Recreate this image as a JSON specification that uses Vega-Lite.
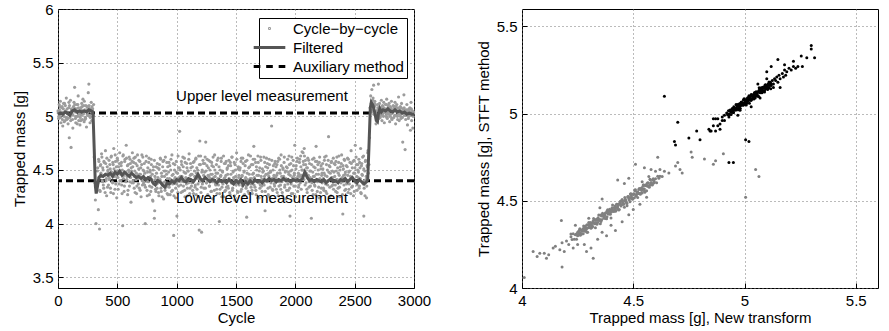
{
"$schema":"https://vega.github.io/schema/vega-lite/v6.json",
"padding":{"left":11,"top":1,"right":5,"bottom":3},
"background":"white",
"spacing":108,
"bounds":"flush",
"resolve":{"scale":{"color":"independent","shape":"independent","strokeWidth":"independent"},"legend":{"color":"independent","shape":"independent","strokeWidth":"independent"}},
"config":{
"font":"Liberation Sans",
"view":{"stroke":"black","strokeWidth":1},
"axis":{"domain":false,"grid":true,"gridColor":"#777777","gridDash":[1,3],"gridWidth":1,"ticks":true,"tickColor":"black","tickSize":-5,"labelFont":"Liberation Sans","labelFontSize":15,"labelColor":"black","titleFont":"Liberation Sans","titleFontSize":15,"titleFontWeight":"normal","titleColor":"black","labelFlush":false,"labelOverlap":false},
"axisX":{"labelPadding":10,"titlePadding":2},
"axisY":{"labelPadding":10,"titlePadding":5},
"legend":{"symbolOpacity":1}
},
"datasets":{
"cyc":[
{"c":0,"m":5.05},{"c":5,"m":4.98},{"c":10,"m":5.11},{"c":15,"m":5.01},{"c":20,"m":5.14},{"c":25,"m":4.94},{"c":30,"m":5.04},{"c":35,"m":5.09},{"c":40,"m":4.91},{"c":45,"m":5.07},{"c":50,"m":5.00},{"c":55,"m":5.12},{"c":60,"m":4.96},{"c":65,"m":5.05},{"c":70,"m":5.17},{"c":75,"m":4.97},{"c":80,"m":5.03},{"c":85,"m":4.93},{"c":90,"m":5.08},{"c":95,"m":4.80},{"c":100,"m":4.99},{"c":105,"m":5.15},{"c":110,"m":4.71},{"c":115,"m":5.06},{"c":120,"m":5.02},{"c":125,"m":4.89},{"c":130,"m":5.09},{"c":135,"m":5.13},{"c":140,"m":5.27},{"c":145,"m":5.04},{"c":150,"m":4.94},{"c":155,"m":5.07},{"c":160,"m":5.11},{"c":165,"m":5.00},{"c":170,"m":5.19},{"c":175,"m":4.96},{"c":180,"m":5.05},{"c":185,"m":4.92},{"c":190,"m":5.08},{"c":195,"m":5.01},{"c":200,"m":5.12},{"c":205,"m":4.97},{"c":210,"m":5.16},{"c":215,"m":5.03},{"c":220,"m":4.95},{"c":225,"m":5.06},{"c":230,"m":4.99},{"c":235,"m":5.10},{"c":240,"m":4.90},{"c":245,"m":5.09},{"c":250,"m":5.04},{"c":255,"m":5.22},{"c":260,"m":5.30},{"c":265,"m":5.01},{"c":270,"m":4.94},{"c":275,"m":5.07},{"c":280,"m":5.13},{"c":285,"m":4.96},{"c":290,"m":5.05},{"c":295,"m":5.00},{"c":300,"m":5.11},
{"c":2,"m":5.03},{"c":12,"m":5.06},{"c":22,"m":4.99},{"c":32,"m":5.08},{"c":42,"m":5.02},{"c":52,"m":4.95},{"c":62,"m":5.10},{"c":72,"m":5.04},{"c":82,"m":4.98},{"c":92,"m":5.13},{"c":102,"m":5.01},{"c":112,"m":5.07},{"c":122,"m":4.97},{"c":132,"m":5.05},{"c":142,"m":5.11},{"c":152,"m":5.00},{"c":162,"m":4.93},{"c":172,"m":5.08},{"c":182,"m":5.03},{"c":192,"m":4.96},{"c":202,"m":5.09},{"c":212,"m":5.02},{"c":222,"m":5.14},{"c":232,"m":4.98},{"c":242,"m":5.06},{"c":252,"m":5.01},{"c":262,"m":5.10},{"c":272,"m":4.99},{"c":282,"m":5.04},{"c":292,"m":5.07},
{"c":7,"m":5.00},{"c":17,"m":5.09},{"c":27,"m":5.03},{"c":37,"m":4.97},{"c":47,"m":5.12},{"c":57,"m":5.04},{"c":67,"m":4.99},{"c":77,"m":5.07},{"c":87,"m":5.02},{"c":97,"m":5.10},{"c":107,"m":4.96},{"c":117,"m":5.05},{"c":127,"m":5.01},{"c":137,"m":5.08},{"c":147,"m":4.98},{"c":157,"m":5.04},{"c":167,"m":5.11},{"c":177,"m":5.02},{"c":187,"m":4.99},{"c":197,"m":5.06},{"c":207,"m":5.03},{"c":217,"m":5.10},{"c":227,"m":4.97},{"c":237,"m":5.05},{"c":247,"m":5.02},{"c":257,"m":5.08},{"c":267,"m":5.00},{"c":277,"m":5.04},{"c":287,"m":5.09},{"c":297,"m":5.01},
{"c":305,"m":4.62},{"c":310,"m":4.38},{"c":315,"m":4.22},{"c":320,"m":4.00},{"c":325,"m":4.35},
{"c":330,"m":4.35},{"c":335,"m":4.52},{"c":340,"m":4.13},{"c":345,"m":4.58},{"c":350,"m":3.95},{"c":355,"m":4.30},{"c":360,"m":4.55},{"c":365,"m":4.44},{"c":370,"m":4.62},{"c":375,"m":4.39},{"c":380,"m":4.50},{"c":385,"m":4.33},{"c":390,"m":4.57},{"c":395,"m":4.45},{"c":400,"m":4.68},{"c":405,"m":4.40},{"c":410,"m":4.26},{"c":415,"m":4.53},{"c":420,"m":4.48},{"c":425,"m":4.36},
{"c":430,"m":4.59},{"c":435,"m":4.42},{"c":440,"m":4.51},{"c":445,"m":4.29},{"c":450,"m":4.63},{"c":455,"m":4.46},{"c":460,"m":4.38},{"c":465,"m":4.55},{"c":470,"m":4.70},{"c":475,"m":4.44},{"c":480,"m":4.32},{"c":485,"m":4.58},{"c":490,"m":4.49},{"c":495,"m":4.24},{"c":500,"m":4.61},{"c":505,"m":4.43},{"c":510,"m":4.53},{"c":515,"m":4.37},{"c":520,"m":4.66},{"c":525,"m":4.47},
{"c":530,"m":4.40},{"c":535,"m":4.57},{"c":540,"m":4.28},{"c":545,"m":3.98},{"c":550,"m":4.64},{"c":555,"m":4.45},{"c":560,"m":4.35},{"c":565,"m":4.60},{"c":570,"m":4.48},{"c":575,"m":4.73},{"c":580,"m":4.41},{"c":585,"m":4.54},{"c":590,"m":4.31},{"c":595,"m":4.50},{"c":600,"m":4.62},{"c":605,"m":4.39},{"c":610,"m":4.56},{"c":615,"m":4.20},{"c":620,"m":4.49},{"c":625,"m":4.58},
{"c":630,"m":4.53},{"c":635,"m":4.38},{"c":640,"m":4.61},{"c":645,"m":4.44},{"c":650,"m":4.29},{"c":655,"m":4.56},{"c":660,"m":4.47},{"c":665,"m":4.35},{"c":670,"m":4.64},{"c":675,"m":4.42},{"c":680,"m":4.51},{"c":685,"m":4.33},{"c":690,"m":4.58},{"c":695,"m":4.46},{"c":700,"m":4.25},{"c":705,"m":4.55},{"c":710,"m":4.40},{"c":715,"m":4.62},{"c":720,"m":4.37},{"c":725,"m":4.49},
{"c":730,"m":4.36},{"c":735,"m":4.00},{"c":740,"m":4.42},{"c":745,"m":4.63},{"c":750,"m":4.31},{"c":755,"m":4.48},{"c":760,"m":4.39},{"c":765,"m":4.57},{"c":770,"m":4.27},{"c":775,"m":4.50},{"c":780,"m":4.44},{"c":785,"m":4.60},{"c":790,"m":4.34},{"c":795,"m":4.46},{"c":800,"m":4.21},{"c":805,"m":4.53},{"c":810,"m":4.38},{"c":812,"m":4.05},{"c":815,"m":4.12},{"c":820,"m":4.41},{"c":825,"m":4.30},
{"c":830,"m":4.47},{"c":835,"m":4.33},{"c":840,"m":4.52},{"c":845,"m":4.38},{"c":850,"m":4.26},{"c":855,"m":4.55},{"c":860,"m":4.41},{"c":865,"m":4.60},{"c":870,"m":4.30},{"c":875,"m":4.44},{"c":880,"m":4.36},{"c":885,"m":4.58},{"c":890,"m":4.23},{"c":895,"m":4.49},{"c":900,"m":4.39},{"c":905,"m":4.62},{"c":910,"m":4.34},{"c":915,"m":4.46},{"c":920,"m":4.28},{"c":925,"m":4.53},
{"c":930,"m":4.35},{"c":935,"m":4.57},{"c":940,"m":4.42},{"c":945,"m":4.27},{"c":950,"m":4.50},{"c":955,"m":4.38},{"c":960,"m":4.64},{"c":965,"m":4.31},{"c":970,"m":4.46},{"c":975,"m":3.89},{"c":980,"m":4.41},{"c":985,"m":4.55},{"c":990,"m":4.24},{"c":995,"m":4.48},{"c":1000,"m":4.37},{"c":1002,"m":4.07},{"c":1005,"m":4.41},{"c":1010,"m":4.29},{"c":1015,"m":4.52},{"c":1020,"m":4.43},{"c":1025,"m":4.86},
{"c":1030,"m":4.50},{"c":1035,"m":4.36},{"c":1040,"m":4.58},{"c":1045,"m":4.44},{"c":1050,"m":4.30},{"c":1055,"m":4.53},{"c":1060,"m":4.39},{"c":1065,"m":4.61},{"c":1070,"m":4.25},{"c":1075,"m":4.47},{"c":1080,"m":4.42},{"c":1085,"m":4.56},{"c":1090,"m":4.33},{"c":1095,"m":4.49},{"c":1100,"m":4.38},{"c":1105,"m":4.65},{"c":1110,"m":4.28},{"c":1115,"m":4.45},{"c":1120,"m":4.52},{"c":1125,"m":4.35},
{"c":1130,"m":4.46},{"c":1135,"m":4.31},{"c":1140,"m":4.57},{"c":1145,"m":4.40},{"c":1150,"m":4.49},{"c":1155,"m":4.34},{"c":1160,"m":4.60},{"c":1165,"m":4.27},{"c":1170,"m":4.52},{"c":1175,"m":4.43},{"c":1180,"m":4.37},{"c":1185,"m":4.63},{"c":1190,"m":3.94},{"c":1195,"m":4.77},{"c":1200,"m":4.55},{"c":1205,"m":4.29},{"c":1210,"m":3.92},{"c":1215,"m":4.50},{"c":1220,"m":4.40},{"c":1225,"m":4.56},
{"c":1230,"m":4.33},{"c":1235,"m":4.48},{"c":1240,"m":4.62},{"c":1245,"m":4.76},{"c":1250,"m":4.38},{"c":1255,"m":4.54},{"c":1260,"m":4.26},{"c":1265,"m":4.45},{"c":1270,"m":4.59},{"c":1275,"m":4.35},{"c":1280,"m":4.50},{"c":1285,"m":4.42},{"c":1290,"m":4.30},{"c":1295,"m":4.57},{"c":1300,"m":4.46},{"c":1305,"m":4.23},{"c":1310,"m":4.53},{"c":1315,"m":4.39},{"c":1320,"m":4.64},{"c":1325,"m":4.44},
{"c":1330,"m":4.36},{"c":1335,"m":4.55},{"c":1340,"m":4.28},{"c":1345,"m":4.47},{"c":1350,"m":4.61},{"c":1355,"m":4.39},{"c":1360,"m":4.02},{"c":1365,"m":4.32},{"c":1370,"m":4.44},{"c":1375,"m":4.58},{"c":1380,"m":4.25},{"c":1385,"m":4.49},{"c":1390,"m":4.37},{"c":1395,"m":4.63},{"c":1400,"m":4.42},{"c":1405,"m":4.30},{"c":1410,"m":4.56},{"c":1415,"m":4.45},{"c":1420,"m":4.34},{"c":1425,"m":4.51},
{"c":1430,"m":4.46},{"c":1435,"m":4.33},{"c":1440,"m":4.59},{"c":1445,"m":4.41},{"c":1450,"m":4.27},{"c":1455,"m":4.54},{"c":1460,"m":4.38},{"c":1465,"m":4.62},{"c":1470,"m":4.31},{"c":1475,"m":4.48},{"c":1480,"m":4.43},{"c":1485,"m":4.57},{"c":1490,"m":4.22},{"c":1495,"m":4.50},{"c":1500,"m":4.36},{"c":1505,"m":4.66},{"c":1510,"m":4.40},{"c":1515,"m":4.29},{"c":1520,"m":4.53},{"c":1525,"m":4.45},
{"c":1530,"m":4.38},{"c":1535,"m":4.52},{"c":1540,"m":4.30},{"c":1545,"m":4.61},{"c":1550,"m":4.44},{"c":1555,"m":4.35},{"c":1560,"m":4.56},{"c":1565,"m":4.26},{"c":1570,"m":4.49},{"c":1575,"m":4.41},{"c":1580,"m":4.58},{"c":1585,"m":4.33},{"c":1590,"m":4.06},{"c":1595,"m":4.47},{"c":1600,"m":4.39},{"c":1605,"m":4.64},{"c":1610,"m":4.28},{"c":1615,"m":4.53},{"c":1620,"m":4.42},{"c":1625,"m":4.37},
{"c":1630,"m":4.55},{"c":1635,"m":4.31},{"c":1640,"m":4.46},{"c":1645,"m":4.60},{"c":1650,"m":4.72},{"c":1655,"m":4.43},{"c":1660,"m":4.34},{"c":1665,"m":4.57},{"c":1670,"m":4.27},{"c":1675,"m":4.50},{"c":1680,"m":4.39},{"c":1685,"m":4.63},{"c":1690,"m":4.45},{"c":1695,"m":4.24},{"c":1700,"m":4.52},{"c":1705,"m":4.36},{"c":1710,"m":4.59},{"c":1715,"m":4.41},{"c":1720,"m":4.30},{"c":1725,"m":4.48},
{"c":1730,"m":4.37},{"c":1735,"m":4.62},{"c":1740,"m":4.44},{"c":1745,"m":4.12},{"c":1750,"m":4.53},{"c":1755,"m":4.40},{"c":1760,"m":4.46},{"c":1765,"m":4.56},{"c":1770,"m":4.33},{"c":1775,"m":4.47},{"c":1780,"m":4.60},{"c":1785,"m":4.25},{"c":1790,"m":4.49},{"c":1795,"m":4.38},{"c":1800,"m":4.91},{"c":1805,"m":4.42},{"c":1810,"m":4.31},{"c":1815,"m":4.54},{"c":1820,"m":4.45},{"c":1825,"m":4.35},
{"c":1830,"m":4.58},{"c":1835,"m":4.43},{"c":1840,"m":4.32},{"c":1845,"m":4.55},{"c":1850,"m":4.47},{"c":1855,"m":4.26},{"c":1860,"m":4.61},{"c":1865,"m":4.39},{"c":1870,"m":4.50},{"c":1875,"m":4.36},{"c":1880,"m":4.64},{"c":1885,"m":4.44},{"c":1890,"m":4.29},{"c":1895,"m":4.52},{"c":1900,"m":4.41},{"c":1905,"m":4.57},{"c":1910,"m":4.34},{"c":1915,"m":4.48},{"c":1920,"m":4.23},{"c":1925,"m":4.53},
{"c":1930,"m":4.40},{"c":1935,"m":4.60},{"c":1940,"m":4.31},{"c":1945,"m":4.46},{"c":1950,"m":4.55},{"c":1955,"m":4.07},{"c":1960,"m":4.49},{"c":1965,"m":4.37},{"c":1970,"m":4.62},{"c":1975,"m":4.43},{"c":1980,"m":4.28},{"c":1985,"m":4.54},{"c":1990,"m":4.45},{"c":1995,"m":4.73},{"c":2000,"m":4.35},{"c":2005,"m":4.51},{"c":2010,"m":4.42},{"c":2015,"m":4.58},{"c":2020,"m":4.30},{"c":2025,"m":4.47},
{"c":2030,"m":4.36},{"c":2035,"m":4.57},{"c":2040,"m":4.44},{"c":2045,"m":4.63},{"c":2050,"m":4.32},{"c":2055,"m":4.50},{"c":2060,"m":4.41},{"c":2065,"m":4.66},{"c":2070,"m":4.55},{"c":2075,"m":4.70},{"c":2080,"m":4.46},{"c":2085,"m":4.59},{"c":2090,"m":4.38},{"c":2095,"m":4.52},{"c":2100,"m":4.29},{"c":2105,"m":4.61},{"c":2110,"m":4.45},{"c":2115,"m":4.34},{"c":2120,"m":4.56},{"c":2125,"m":4.43},
{"c":2130,"m":4.49},{"c":2135,"m":4.05},{"c":2140,"m":4.38},{"c":2145,"m":4.60},{"c":2150,"m":4.27},{"c":2155,"m":4.53},{"c":2160,"m":4.44},{"c":2165,"m":4.35},{"c":2170,"m":4.58},{"c":2175,"m":4.72},{"c":2180,"m":4.41},{"c":2185,"m":4.30},{"c":2190,"m":4.55},{"c":2195,"m":4.46},{"c":2200,"m":4.24},{"c":2205,"m":4.62},{"c":2210,"m":4.39},{"c":2215,"m":4.51},{"c":2220,"m":4.33},{"c":2225,"m":4.47},
{"c":2230,"m":4.56},{"c":2235,"m":4.42},{"c":2240,"m":4.31},{"c":2245,"m":4.59},{"c":2250,"m":4.45},{"c":2255,"m":4.37},{"c":2260,"m":4.63},{"c":2265,"m":4.28},{"c":2270,"m":4.50},{"c":2275,"m":4.40},{"c":2280,"m":4.81},{"c":2285,"m":4.54},{"c":2290,"m":4.34},{"c":2295,"m":4.47},{"c":2300,"m":4.26},{"c":2305,"m":4.58},{"c":2310,"m":4.43},{"c":2315,"m":4.36},{"c":2320,"m":4.61},{"c":2325,"m":4.48},
{"c":2330,"m":4.39},{"c":2335,"m":4.55},{"c":2340,"m":4.30},{"c":2345,"m":4.49},{"c":2350,"m":4.62},{"c":2355,"m":4.41},{"c":2360,"m":4.33},{"c":2365,"m":4.57},{"c":2370,"m":4.45},{"c":2375,"m":4.25},{"c":2380,"m":4.53},{"c":2385,"m":4.38},{"c":2390,"m":4.64},{"c":2395,"m":4.43},{"c":2400,"m":4.09},{"c":2405,"m":4.51},{"c":2410,"m":4.36},{"c":2415,"m":4.59},{"c":2420,"m":4.46},{"c":2425,"m":4.32},
{"c":2430,"m":4.54},{"c":2435,"m":4.40},{"c":2440,"m":4.61},{"c":2445,"m":4.29},{"c":2450,"m":4.48},{"c":2455,"m":4.37},{"c":2460,"m":4.57},{"c":2465,"m":4.44},{"c":2470,"m":4.68},{"c":2475,"m":4.34},{"c":2480,"m":4.52},{"c":2485,"m":4.42},{"c":2490,"m":4.26},{"c":2495,"m":4.59},{"c":2500,"m":4.47},{"c":2505,"m":4.73},{"c":2510,"m":4.38},{"c":2515,"m":4.55},{"c":2520,"m":4.31},{"c":2525,"m":4.50},
{"c":2530,"m":4.43},{"c":2535,"m":4.60},{"c":2540,"m":4.35},{"c":2545,"m":4.52},{"c":2550,"m":4.70},{"c":2555,"m":4.28},{"c":2560,"m":4.56},{"c":2565,"m":4.45},{"c":2570,"m":4.38},{"c":2575,"m":4.63},{"c":2577,"m":4.07},{"c":2580,"m":4.33},{"c":2585,"m":4.49},{"c":2590,"m":4.58},{"c":2595,"m":4.41},{"c":2600,"m":4.24},{"c":2605,"m":4.54},{"c":2610,"m":4.66},{"c":2615,"m":4.47},
{"c":332,"m":4.49},{"c":337,"m":4.38},{"c":342,"m":4.60},{"c":347,"m":4.43},{"c":352,"m":4.31},{"c":357,"m":4.54},{"c":362,"m":4.47},{"c":367,"m":4.65},{"c":372,"m":4.40},{"c":377,"m":4.52},{"c":382,"m":4.36},{"c":387,"m":4.58},{"c":392,"m":4.45},{"c":397,"m":4.29},{"c":402,"m":4.56},{"c":407,"m":4.42},{"c":412,"m":4.61},{"c":417,"m":4.34},{"c":422,"m":4.50},{"c":427,"m":4.44},
{"c":432,"m":4.41},{"c":437,"m":4.55},{"c":442,"m":4.33},{"c":447,"m":4.62},{"c":452,"m":4.48},{"c":457,"m":4.39},{"c":462,"m":4.57},{"c":467,"m":4.28},{"c":472,"m":4.51},{"c":477,"m":4.45},{"c":482,"m":4.64},{"c":487,"m":4.37},{"c":492,"m":4.53},{"c":497,"m":4.43},{"c":502,"m":4.59},{"c":507,"m":4.32},{"c":512,"m":4.49},{"c":517,"m":4.56},{"c":522,"m":4.40},{"c":527,"m":4.46},
{"c":532,"m":4.54},{"c":537,"m":4.36},{"c":542,"m":4.50},{"c":547,"m":4.63},{"c":552,"m":4.42},{"c":557,"m":4.30},{"c":562,"m":4.58},{"c":567,"m":4.47},{"c":572,"m":4.39},{"c":577,"m":4.61},{"c":582,"m":4.44},{"c":587,"m":4.27},{"c":592,"m":4.55},{"c":597,"m":4.48},{"c":602,"m":4.35},{"c":607,"m":4.60},{"c":612,"m":4.43},{"c":617,"m":4.52},{"c":622,"m":4.38},{"c":627,"m":4.66},
{"c":632,"m":4.40},{"c":637,"m":4.57},{"c":642,"m":4.33},{"c":647,"m":4.49},{"c":652,"m":4.62},{"c":657,"m":4.41},{"c":662,"m":4.28},{"c":667,"m":4.54},{"c":672,"m":4.45},{"c":677,"m":4.37},{"c":682,"m":4.59},{"c":687,"m":4.46},{"c":692,"m":4.31},{"c":697,"m":4.52},{"c":702,"m":4.43},{"c":707,"m":4.64},{"c":712,"m":4.36},{"c":717,"m":4.50},{"c":722,"m":4.39},{"c":727,"m":4.56},
{"c":732,"m":4.47},{"c":737,"m":4.34},{"c":742,"m":4.58},{"c":747,"m":4.40},{"c":752,"m":4.26},{"c":757,"m":4.52},{"c":762,"m":4.43},{"c":767,"m":4.61},{"c":772,"m":4.35},{"c":777,"m":4.48},{"c":782,"m":4.30},{"c":787,"m":4.55},{"c":792,"m":4.41},{"c":797,"m":4.22},{"c":802,"m":4.50},{"c":807,"m":4.37},{"c":812,"m":4.59},{"c":817,"m":4.44},{"c":822,"m":4.32},{"c":827,"m":4.53},
{"c":832,"m":4.37},{"c":837,"m":4.56},{"c":842,"m":4.43},{"c":847,"m":4.29},{"c":852,"m":4.51},{"c":857,"m":4.40},{"c":862,"m":4.61},{"c":867,"m":4.33},{"c":872,"m":4.47},{"c":877,"m":4.25},{"c":882,"m":4.53},{"c":887,"m":4.38},{"c":892,"m":4.59},{"c":897,"m":4.44},{"c":902,"m":4.31},{"c":907,"m":4.49},{"c":912,"m":4.36},{"c":917,"m":4.57},{"c":922,"m":4.42},{"c":927,"m":4.27},
{"c":932,"m":4.48},{"c":937,"m":4.34},{"c":942,"m":4.54},{"c":947,"m":4.41},{"c":952,"m":4.60},{"c":957,"m":4.30},{"c":962,"m":4.45},{"c":967,"m":4.37},{"c":972,"m":4.56},{"c":977,"m":4.26},{"c":982,"m":4.50},{"c":987,"m":4.43},{"c":992,"m":4.33},{"c":997,"m":4.58},{"c":1002,"m":4.39},{"c":1007,"m":4.47},{"c":1012,"m":4.63},{"c":1017,"m":4.35},{"c":1022,"m":4.52},{"c":1027,"m":4.40},
{"c":1032,"m":4.44},{"c":1037,"m":4.29},{"c":1042,"m":4.55},{"c":1047,"m":4.40},{"c":1052,"m":4.62},{"c":1057,"m":4.35},{"c":1062,"m":4.48},{"c":1067,"m":4.31},{"c":1072,"m":4.57},{"c":1077,"m":4.43},{"c":1082,"m":4.37},{"c":1087,"m":4.52},{"c":1092,"m":4.26},{"c":1097,"m":4.49},{"c":1102,"m":4.60},{"c":1107,"m":4.41},{"c":1112,"m":4.33},{"c":1117,"m":4.56},{"c":1122,"m":4.46},{"c":1127,"m":4.38},
{"c":1132,"m":4.53},{"c":1137,"m":4.39},{"c":1142,"m":4.28},{"c":1147,"m":4.58},{"c":1152,"m":4.44},{"c":1157,"m":4.36},{"c":1162,"m":4.61},{"c":1167,"m":4.47},{"c":1172,"m":4.32},{"c":1177,"m":4.50},{"c":1182,"m":4.42},{"c":1187,"m":4.25},{"c":1192,"m":4.55},{"c":1197,"m":4.40},{"c":1202,"m":4.63},{"c":1207,"m":4.34},{"c":1212,"m":4.48},{"c":1217,"m":4.37},{"c":1222,"m":4.59},{"c":1227,"m":4.45},
{"c":1232,"m":4.41},{"c":1237,"m":4.56},{"c":1242,"m":4.33},{"c":1247,"m":4.49},{"c":1252,"m":4.38},{"c":1257,"m":4.60},{"c":1262,"m":4.27},{"c":1267,"m":4.52},{"c":1272,"m":4.44},{"c":1277,"m":4.35},{"c":1282,"m":4.58},{"c":1287,"m":4.46},{"c":1292,"m":4.30},{"c":1297,"m":4.54},{"c":1302,"m":4.39},{"c":1307,"m":4.62},{"c":1312,"m":4.43},{"c":1317,"m":4.31},{"c":1322,"m":4.50},{"c":1327,"m":4.37},
{"c":1332,"m":4.47},{"c":1337,"m":4.32},{"c":1342,"m":4.59},{"c":1347,"m":4.42},{"c":1352,"m":4.36},{"c":1357,"m":4.53},{"c":1362,"m":4.28},{"c":1367,"m":4.50},{"c":1372,"m":4.45},{"c":1377,"m":4.61},{"c":1382,"m":4.34},{"c":1387,"m":4.48},{"c":1392,"m":4.40},{"c":1397,"m":4.25},{"c":1402,"m":4.56},{"c":1407,"m":4.43},{"c":1412,"m":4.31},{"c":1417,"m":4.58},{"c":1422,"m":4.39},{"c":1427,"m":4.52},
{"c":1432,"m":4.35},{"c":1437,"m":4.54},{"c":1442,"m":4.42},{"c":1447,"m":4.29},{"c":1452,"m":4.57},{"c":1457,"m":4.46},{"c":1462,"m":4.38},{"c":1467,"m":4.62},{"c":1472,"m":4.33},{"c":1477,"m":4.49},{"c":1482,"m":4.41},{"c":1487,"m":4.26},{"c":1492,"m":4.55},{"c":1497,"m":4.44},{"c":1502,"m":4.37},{"c":1507,"m":4.60},{"c":1512,"m":4.30},{"c":1517,"m":4.51},{"c":1522,"m":4.43},{"c":1527,"m":4.36},
{"c":1532,"m":4.50},{"c":1537,"m":4.39},{"c":1542,"m":4.58},{"c":1547,"m":4.32},{"c":1552,"m":4.45},{"c":1557,"m":4.61},{"c":1562,"m":4.37},{"c":1567,"m":4.48},{"c":1572,"m":4.27},{"c":1577,"m":4.54},{"c":1582,"m":4.43},{"c":1587,"m":4.35},{"c":1592,"m":4.59},{"c":1597,"m":4.41},{"c":1602,"m":4.30},{"c":1607,"m":4.52},{"c":1612,"m":4.46},{"c":1617,"m":4.38},{"c":1622,"m":4.63},{"c":1627,"m":4.34},
{"c":1632,"m":4.42},{"c":1637,"m":4.28},{"c":1642,"m":4.55},{"c":1647,"m":4.47},{"c":1652,"m":4.36},{"c":1657,"m":4.60},{"c":1662,"m":4.40},{"c":1667,"m":4.31},{"c":1672,"m":4.53},{"c":1677,"m":4.45},{"c":1682,"m":4.24},{"c":1687,"m":4.57},{"c":1692,"m":4.38},{"c":1697,"m":4.49},{"c":1702,"m":4.33},{"c":1707,"m":4.62},{"c":1712,"m":4.44},{"c":1717,"m":4.35},{"c":1722,"m":4.51},{"c":1727,"m":4.41},
{"c":1732,"m":4.49},{"c":1737,"m":4.36},{"c":1742,"m":4.57},{"c":1747,"m":4.30},{"c":1752,"m":4.46},{"c":1757,"m":4.61},{"c":1762,"m":4.39},{"c":1767,"m":4.52},{"c":1772,"m":4.27},{"c":1777,"m":4.44},{"c":1782,"m":4.55},{"c":1787,"m":4.34},{"c":1792,"m":4.48},{"c":1797,"m":4.40},{"c":1802,"m":4.59},{"c":1807,"m":4.32},{"c":1812,"m":4.50},{"c":1817,"m":4.43},{"c":1822,"m":4.37},{"c":1827,"m":4.56},
{"c":1832,"m":4.38},{"c":1837,"m":4.53},{"c":1842,"m":4.45},{"c":1847,"m":4.29},{"c":1852,"m":4.58},{"c":1857,"m":4.41},{"c":1862,"m":4.35},{"c":1867,"m":4.60},{"c":1872,"m":4.47},{"c":1877,"m":4.32},{"c":1882,"m":4.54},{"c":1887,"m":4.39},{"c":1892,"m":4.26},{"c":1897,"m":4.51},{"c":1902,"m":4.44},{"c":1907,"m":4.62},{"c":1912,"m":4.36},{"c":1917,"m":4.49},{"c":1922,"m":4.42},{"c":1927,"m":4.31},
{"c":1932,"m":4.52},{"c":1937,"m":4.37},{"c":1942,"m":4.48},{"c":1947,"m":4.63},{"c":1952,"m":4.33},{"c":1957,"m":4.45},{"c":1962,"m":4.56},{"c":1967,"m":4.28},{"c":1972,"m":4.50},{"c":1977,"m":4.40},{"c":1982,"m":4.59},{"c":1987,"m":4.35},{"c":1992,"m":4.47},{"c":1997,"m":4.42},{"c":2002,"m":4.25},{"c":2007,"m":4.54},{"c":2012,"m":4.39},{"c":2017,"m":4.61},{"c":2022,"m":4.44},{"c":2027,"m":4.34},
{"c":2032,"m":4.46},{"c":2037,"m":4.60},{"c":2042,"m":4.38},{"c":2047,"m":4.53},{"c":2052,"m":4.45},{"c":2057,"m":4.67},{"c":2062,"m":4.50},{"c":2067,"m":4.58},{"c":2072,"m":4.41},{"c":2077,"m":4.63},{"c":2082,"m":4.36},{"c":2087,"m":4.55},{"c":2092,"m":4.47},{"c":2097,"m":4.32},{"c":2102,"m":4.52},{"c":2107,"m":4.43},{"c":2112,"m":4.59},{"c":2117,"m":4.39},{"c":2122,"m":4.49},{"c":2127,"m":4.35},
{"c":2132,"m":4.40},{"c":2137,"m":4.55},{"c":2142,"m":4.31},{"c":2147,"m":4.48},{"c":2152,"m":4.44},{"c":2157,"m":4.61},{"c":2162,"m":4.36},{"c":2167,"m":4.52},{"c":2172,"m":4.27},{"c":2177,"m":4.46},{"c":2182,"m":4.58},{"c":2187,"m":4.39},{"c":2192,"m":4.50},{"c":2197,"m":4.34},{"c":2202,"m":4.57},{"c":2207,"m":4.42},{"c":2212,"m":4.29},{"c":2217,"m":4.54},{"c":2222,"m":4.45},{"c":2227,"m":4.38},
{"c":2232,"m":4.51},{"c":2237,"m":4.33},{"c":2242,"m":4.47},{"c":2247,"m":4.62},{"c":2252,"m":4.40},{"c":2257,"m":4.30},{"c":2262,"m":4.55},{"c":2267,"m":4.44},{"c":2272,"m":4.36},{"c":2277,"m":4.59},{"c":2282,"m":4.48},{"c":2287,"m":4.25},{"c":2292,"m":4.53},{"c":2297,"m":4.41},{"c":2302,"m":4.57},{"c":2307,"m":4.35},{"c":2312,"m":4.49},{"c":2317,"m":4.43},{"c":2322,"m":4.32},{"c":2327,"m":4.56},
{"c":2332,"m":4.44},{"c":2337,"m":4.36},{"c":2342,"m":4.58},{"c":2347,"m":4.41},{"c":2352,"m":4.29},{"c":2357,"m":4.52},{"c":2362,"m":4.47},{"c":2367,"m":4.63},{"c":2372,"m":4.34},{"c":2377,"m":4.50},{"c":2382,"m":4.39},{"c":2387,"m":4.56},{"c":2392,"m":4.42},{"c":2397,"m":4.27},{"c":2402,"m":4.54},{"c":2407,"m":4.45},{"c":2412,"m":4.60},{"c":2417,"m":4.31},{"c":2422,"m":4.48},{"c":2427,"m":4.40},
{"c":2432,"m":4.37},{"c":2437,"m":4.53},{"c":2442,"m":4.45},{"c":2447,"m":4.60},{"c":2452,"m":4.32},{"c":2457,"m":4.49},{"c":2462,"m":4.41},{"c":2467,"m":4.28},{"c":2472,"m":4.56},{"c":2477,"m":4.43},{"c":2482,"m":4.35},{"c":2487,"m":4.58},{"c":2492,"m":4.47},{"c":2497,"m":4.30},{"c":2502,"m":4.52},{"c":2507,"m":4.39},{"c":2512,"m":4.62},{"c":2517,"m":4.44},{"c":2522,"m":4.36},{"c":2527,"m":4.55},
{"c":2532,"m":4.48},{"c":2537,"m":4.33},{"c":2542,"m":4.57},{"c":2547,"m":4.42},{"c":2552,"m":4.29},{"c":2557,"m":4.54},{"c":2562,"m":4.46},{"c":2567,"m":4.62},{"c":2572,"m":4.37},{"c":2577,"m":4.51},{"c":2582,"m":4.40},{"c":2587,"m":4.26},{"c":2592,"m":4.59},{"c":2597,"m":4.44},{"c":2602,"m":4.35},{"c":2607,"m":4.53},{"c":2612,"m":4.68},
{"c":2620,"m":4.55},{"c":2625,"m":4.80},
{"c":2630,"m":5.08},{"c":2635,"m":5.19},{"c":2640,"m":5.12},{"c":2645,"m":5.25},{"c":2650,"m":5.06},{"c":2655,"m":5.17},{"c":2660,"m":5.29},{"c":2665,"m":5.09},{"c":2670,"m":5.14},{"c":2675,"m":5.01},{"c":2680,"m":4.93},{"c":2685,"m":5.05},{"c":2690,"m":4.97},{"c":2695,"m":5.08},{"c":2700,"m":5.30},{"c":2705,"m":5.02},{"c":2710,"m":5.12},{"c":2715,"m":4.99},{"c":2720,"m":5.07},{"c":2725,"m":5.15},{"c":2730,"m":4.96},{"c":2735,"m":5.10},{"c":2740,"m":5.03},{"c":2745,"m":5.13},{"c":2750,"m":4.94},{"c":2755,"m":5.06},{"c":2760,"m":5.11},{"c":2765,"m":5.00},{"c":2770,"m":5.16},{"c":2775,"m":4.98},{"c":2780,"m":5.08},{"c":2785,"m":5.04},{"c":2790,"m":5.12},{"c":2795,"m":4.95},{"c":2800,"m":5.09},{"c":2805,"m":5.02},{"c":2810,"m":5.14},{"c":2815,"m":4.97},{"c":2820,"m":5.06},{"c":2825,"m":5.10},{"c":2830,"m":4.99},{"c":2835,"m":5.07},{"c":2840,"m":5.13},{"c":2845,"m":4.93},{"c":2850,"m":5.05},{"c":2855,"m":5.11},{"c":2860,"m":5.00},{"c":2865,"m":5.08},{"c":2870,"m":5.18},{"c":2875,"m":4.96},{"c":2880,"m":5.04},{"c":2885,"m":5.09},{"c":2890,"m":4.98},{"c":2895,"m":5.12},{"c":2900,"m":5.03},{"c":2905,"m":4.76},{"c":2910,"m":5.07},{"c":2915,"m":5.20},{"c":2920,"m":5.01},{"c":2925,"m":4.69},{"c":2930,"m":4.97},{"c":2935,"m":5.06},{"c":2940,"m":5.11},{"c":2945,"m":4.92},{"c":2950,"m":5.04},{"c":2955,"m":5.06},{"c":2960,"m":5.02},{"c":2965,"m":5.08},{"c":2970,"m":4.87},{"c":2975,"m":5.13},{"c":2980,"m":4.96},{"c":2985,"m":5.05},{"c":2990,"m":4.89},{"c":2995,"m":5.03},
{"c":2642,"m":5.04},{"c":2652,"m":5.15},{"c":2662,"m":5.02},{"c":2672,"m":5.10},{"c":2682,"m":5.00},{"c":2692,"m":5.11},{"c":2702,"m":4.98},{"c":2712,"m":5.05},{"c":2722,"m":5.01},{"c":2732,"m":5.09},{"c":2742,"m":5.00},{"c":2752,"m":5.07},{"c":2762,"m":5.03},{"c":2772,"m":4.99},{"c":2782,"m":5.10},{"c":2792,"m":5.02},{"c":2802,"m":5.06},{"c":2812,"m":4.98},{"c":2822,"m":5.04},{"c":2832,"m":5.09},{"c":2842,"m":5.01},{"c":2852,"m":5.07},{"c":2862,"m":4.97},{"c":2872,"m":5.05},{"c":2882,"m":5.02},{"c":2892,"m":5.08},{"c":2902,"m":4.99},{"c":2912,"m":5.04},{"c":2922,"m":5.06},{"c":2932,"m":5.01},{"c":2942,"m":5.03},{"c":2952,"m":4.98},{"c":2962,"m":5.07},{"c":2972,"m":5.02},{"c":2982,"m":5.05},{"c":2992,"m":5.00},
{"c":2647,"m":5.10},{"c":2657,"m":5.06},{"c":2667,"m":5.12},{"c":2677,"m":5.03},{"c":2687,"m":4.99},{"c":2697,"m":5.06},{"c":2707,"m":5.09},{"c":2717,"m":5.03},{"c":2727,"m":5.07},{"c":2737,"m":5.01},{"c":2747,"m":5.08},{"c":2757,"m":5.04},{"c":2767,"m":5.11},{"c":2777,"m":5.02},{"c":2787,"m":5.06},{"c":2797,"m":5.00},{"c":2807,"m":5.08},{"c":2817,"m":5.03},{"c":2827,"m":5.05},{"c":2837,"m":5.01},{"c":2847,"m":5.09},{"c":2857,"m":5.04},{"c":2867,"m":5.02},{"c":2877,"m":5.07},{"c":2887,"m":5.00},{"c":2897,"m":5.05},{"c":2907,"m":5.03},{"c":2917,"m":5.08},{"c":2927,"m":5.01},{"c":2937,"m":5.04},{"c":2947,"m":5.06},{"c":2957,"m":5.00},{"c":2967,"m":5.04},{"c":2977,"m":5.07},{"c":2987,"m":5.01},{"c":2997,"m":5.04}
],
"filt":[
{"c":0,"m":5.02},{"c":20,"m":5.03},{"c":40,"m":5.02},{"c":60,"m":5.04},{"c":80,"m":5.03},{"c":100,"m":5.01},{"c":120,"m":5.05},{"c":140,"m":5.06},{"c":160,"m":5.04},{"c":180,"m":5.05},{"c":200,"m":5.04},{"c":220,"m":5.05},{"c":240,"m":5.04},{"c":260,"m":5.06},{"c":280,"m":5.05},{"c":295,"m":5.04},{"c":305,"m":4.70},{"c":315,"m":4.35},{"c":322,"m":4.28},{"c":330,"m":4.33},{"c":345,"m":4.43},{"c":360,"m":4.45},{"c":380,"m":4.44},{"c":400,"m":4.46},{"c":420,"m":4.45},{"c":440,"m":4.47},{"c":460,"m":4.44},{"c":480,"m":4.48},{"c":500,"m":4.46},{"c":520,"m":4.49},{"c":540,"m":4.45},{"c":560,"m":4.48},{"c":580,"m":4.46},{"c":600,"m":4.44},{"c":620,"m":4.47},{"c":640,"m":4.45},{"c":660,"m":4.43},{"c":680,"m":4.44},{"c":700,"m":4.42},{"c":720,"m":4.44},{"c":740,"m":4.41},{"c":760,"m":4.43},{"c":780,"m":4.42},{"c":800,"m":4.38},{"c":820,"m":4.36},{"c":840,"m":4.40},{"c":860,"m":4.39},{"c":880,"m":4.36},{"c":900,"m":4.34},{"c":920,"m":4.38},{"c":940,"m":4.37},{"c":960,"m":4.40},{"c":980,"m":4.38},{"c":1000,"m":4.41},{"c":1020,"m":4.40},{"c":1040,"m":4.43},{"c":1060,"m":4.40},{"c":1080,"m":4.39},{"c":1100,"m":4.42},{"c":1120,"m":4.41},{"c":1140,"m":4.39},{"c":1160,"m":4.42},{"c":1180,"m":4.46},{"c":1200,"m":4.42},{"c":1220,"m":4.40},{"c":1240,"m":4.43},{"c":1260,"m":4.41},{"c":1280,"m":4.39},{"c":1300,"m":4.41},{"c":1320,"m":4.40},{"c":1340,"m":4.38},{"c":1360,"m":4.41},{"c":1380,"m":4.39},{"c":1400,"m":4.40},{"c":1420,"m":4.38},{"c":1440,"m":4.41},{"c":1460,"m":4.39},{"c":1480,"m":4.37},{"c":1500,"m":4.40},{"c":1520,"m":4.38},{"c":1540,"m":4.41},{"c":1560,"m":4.36},{"c":1580,"m":4.39},{"c":1600,"m":4.37},{"c":1620,"m":4.40},{"c":1640,"m":4.38},{"c":1660,"m":4.41},{"c":1680,"m":4.39},{"c":1700,"m":4.40},{"c":1720,"m":4.38},{"c":1740,"m":4.41},{"c":1760,"m":4.40},{"c":1780,"m":4.42},{"c":1800,"m":4.40},{"c":1820,"m":4.41},{"c":1840,"m":4.39},{"c":1860,"m":4.41},{"c":1880,"m":4.40},{"c":1900,"m":4.42},{"c":1920,"m":4.40},{"c":1940,"m":4.41},{"c":1960,"m":4.39},{"c":1980,"m":4.41},{"c":2000,"m":4.40},{"c":2020,"m":4.41},{"c":2040,"m":4.40},{"c":2060,"m":4.42},{"c":2080,"m":4.48},{"c":2100,"m":4.43},{"c":2120,"m":4.40},{"c":2140,"m":4.41},{"c":2160,"m":4.39},{"c":2180,"m":4.41},{"c":2200,"m":4.40},{"c":2220,"m":4.39},{"c":2240,"m":4.41},{"c":2260,"m":4.38},{"c":2280,"m":4.40},{"c":2300,"m":4.42},{"c":2320,"m":4.39},{"c":2340,"m":4.40},{"c":2360,"m":4.38},{"c":2380,"m":4.41},{"c":2400,"m":4.40},{"c":2420,"m":4.42},{"c":2440,"m":4.39},{"c":2460,"m":4.41},{"c":2480,"m":4.43},{"c":2500,"m":4.40},{"c":2520,"m":4.38},{"c":2540,"m":4.41},{"c":2560,"m":4.39},{"c":2580,"m":4.37},{"c":2600,"m":4.39},{"c":2610,"m":4.41},{"c":2620,"m":4.70},{"c":2632,"m":5.08},{"c":2640,"m":5.13},{"c":2655,"m":5.10},{"c":2670,"m":5.03},{"c":2682,"m":4.96},{"c":2692,"m":4.95},{"c":2700,"m":5.02},{"c":2712,"m":5.07},{"c":2725,"m":5.04},{"c":2740,"m":5.06},{"c":2760,"m":5.05},{"c":2780,"m":5.07},{"c":2800,"m":5.05},{"c":2820,"m":5.04},{"c":2840,"m":5.06},{"c":2860,"m":5.04},{"c":2880,"m":5.05},{"c":2900,"m":5.03},{"c":2920,"m":5.04},{"c":2940,"m":5.02},{"c":2960,"m":5.03},{"c":2980,"m":5.02},{"c":3000,"m":5.02}
],
"aux":[{"m":5.03},{"m":4.40}],
"lab":[{"c":995,"m":5.19,"t":"Upper level measurement"},{"c":995,"m":4.235,"t":"Lower level measurement"}],
"leg":[{"s":"Cycle−by−cycle"},{"s":"Filtered"},{"s":"Auxiliary method"}],
"lo":[
{"x":4.220,"y":4.294},{"x":4.225,"y":4.278},{"x":4.230,"y":4.311},{"x":4.235,"y":4.280},{"x":4.240,"y":4.305},{"x":4.245,"y":4.279},{"x":4.250,"y":4.319},{"x":4.255,"y":4.310},{"x":4.260,"y":4.336},{"x":4.265,"y":4.310},{"x":4.270,"y":4.327},{"x":4.275,"y":4.311},{"x":4.280,"y":4.344},{"x":4.285,"y":4.355},{"x":4.290,"y":4.339},{"x":4.295,"y":4.319},{"x":4.300,"y":4.375},{"x":4.305,"y":4.348},{"x":4.310,"y":4.366},{"x":4.315,"y":4.349},{"x":4.320,"y":4.385},{"x":4.325,"y":4.374},{"x":4.330,"y":4.345},{"x":4.335,"y":4.394},{"x":4.340,"y":4.375},{"x":4.345,"y":4.419},{"x":4.350,"y":4.393},{"x":4.355,"y":4.381},{"x":4.360,"y":4.418},{"x":4.365,"y":4.415},{"x":4.370,"y":4.400},{"x":4.375,"y":4.428},{"x":4.380,"y":4.397},{"x":4.385,"y":4.449},{"x":4.390,"y":4.425},{"x":4.395,"y":4.440},{"x":4.400,"y":4.402},{"x":4.405,"y":4.460},{"x":4.410,"y":4.440},{"x":4.415,"y":4.462},{"x":4.420,"y":4.440},{"x":4.425,"y":4.481},{"x":4.430,"y":4.465},{"x":4.435,"y":4.448},{"x":4.440,"y":4.488},{"x":4.445,"y":4.470},{"x":4.450,"y":4.508},{"x":4.455,"y":4.485},{"x":4.460,"y":4.463},{"x":4.465,"y":4.509},{"x":4.470,"y":4.488},{"x":4.475,"y":4.524},{"x":4.480,"y":4.513},{"x":4.485,"y":4.495},{"x":4.490,"y":4.540},{"x":4.495,"y":4.518},{"x":4.500,"y":4.536},{"x":4.505,"y":4.517},{"x":4.510,"y":4.563},{"x":4.515,"y":4.539},{"x":4.520,"y":4.519},{"x":4.525,"y":4.565},{"x":4.530,"y":4.544},{"x":4.535,"y":4.565},{"x":4.540,"y":4.545},{"x":4.545,"y":4.590},{"x":4.550,"y":4.568},{"x":4.555,"y":4.590},{"x":4.560,"y":4.558},{"x":4.565,"y":4.603},{"x":4.570,"y":4.582},{"x":4.575,"y":4.623},{"x":4.580,"y":4.600},{"x":4.585,"y":4.590},{"x":4.590,"y":4.627},{"x":4.595,"y":4.608},{"x":4.600,"y":4.626},{"x":4.605,"y":4.604},{"x":4.610,"y":4.641},{"x":4.615,"y":4.629},{"x":4.620,"y":4.641},
{"x":4.252,"y":4.306},{"x":4.257,"y":4.329},{"x":4.262,"y":4.302},{"x":4.267,"y":4.331},{"x":4.272,"y":4.327},{"x":4.277,"y":4.355},{"x":4.282,"y":4.326},{"x":4.287,"y":4.345},{"x":4.292,"y":4.319},{"x":4.297,"y":4.361},{"x":4.302,"y":4.348},{"x":4.307,"y":4.376},{"x":4.312,"y":4.363},{"x":4.317,"y":4.354},{"x":4.322,"y":4.399},{"x":4.327,"y":4.369},{"x":4.332,"y":4.387},{"x":4.337,"y":4.366},{"x":4.342,"y":4.403},{"x":4.347,"y":4.392},{"x":4.352,"y":4.368},{"x":4.357,"y":4.413},{"x":4.362,"y":4.428},{"x":4.367,"y":4.401},{"x":4.372,"y":4.419},{"x":4.377,"y":4.399},{"x":4.382,"y":4.442},{"x":4.387,"y":4.426},{"x":4.392,"y":4.445},{"x":4.397,"y":4.423},{"x":4.402,"y":4.448},{"x":4.407,"y":4.476},{"x":4.412,"y":4.442},{"x":4.417,"y":4.455},{"x":4.422,"y":4.443},{"x":4.427,"y":4.480},{"x":4.432,"y":4.477},{"x":4.437,"y":4.450},{"x":4.442,"y":4.497},{"x":4.447,"y":4.477},{"x":4.452,"y":4.491},{"x":4.457,"y":4.480},{"x":4.462,"y":4.519},{"x":4.467,"y":4.501},{"x":4.472,"y":4.471},{"x":4.477,"y":4.523},{"x":4.482,"y":4.506},{"x":4.487,"y":4.539},{"x":4.492,"y":4.520},{"x":4.497,"y":4.509},{"x":4.502,"y":4.540},{"x":4.507,"y":4.562},{"x":4.512,"y":4.527},{"x":4.517,"y":4.550},{"x":4.522,"y":4.542},{"x":4.527,"y":4.570},{"x":4.532,"y":4.537},{"x":4.537,"y":4.573},{"x":4.542,"y":4.568},{"x":4.547,"y":4.590},{"x":4.552,"y":4.549},{"x":4.557,"y":4.588},{"x":4.562,"y":4.599},{"x":4.567,"y":4.585},{"x":4.572,"y":4.578},{"x":4.577,"y":4.621},{"x":4.582,"y":4.601},{"x":4.587,"y":4.619},{"x":4.592,"y":4.602},
{"x":4.244,"y":4.309},{"x":4.250,"y":4.300},{"x":4.256,"y":4.327},{"x":4.262,"y":4.316},{"x":4.268,"y":4.309},{"x":4.274,"y":4.340},{"x":4.280,"y":4.336},{"x":4.286,"y":4.329},{"x":4.292,"y":4.363},{"x":4.298,"y":4.345},{"x":4.304,"y":4.361},{"x":4.310,"y":4.342},{"x":4.316,"y":4.376},{"x":4.322,"y":4.372},{"x":4.328,"y":4.392},{"x":4.334,"y":4.372},{"x":4.340,"y":4.392},{"x":4.346,"y":4.387},{"x":4.352,"y":4.418},{"x":4.358,"y":4.391},{"x":4.364,"y":4.417},{"x":4.370,"y":4.411},{"x":4.376,"y":4.432},{"x":4.382,"y":4.408},{"x":4.388,"y":4.433},{"x":4.394,"y":4.452},{"x":4.400,"y":4.434},{"x":4.406,"y":4.452},{"x":4.412,"y":4.440},{"x":4.418,"y":4.470},{"x":4.424,"y":4.461},{"x":4.430,"y":4.452},{"x":4.436,"y":4.482},{"x":4.442,"y":4.479},{"x":4.448,"y":4.501},{"x":4.454,"y":4.480},{"x":4.460,"y":4.501},{"x":4.466,"y":4.496},{"x":4.472,"y":4.484},{"x":4.478,"y":4.524},{"x":4.484,"y":4.514},{"x":4.490,"y":4.531},{"x":4.496,"y":4.512},{"x":4.502,"y":4.537},{"x":4.508,"y":4.556},{"x":4.514,"y":4.534},{"x":4.520,"y":4.550},{"x":4.526,"y":4.542},{"x":4.532,"y":4.569},{"x":4.538,"y":4.559},{"x":4.544,"y":4.584},{"x":4.550,"y":4.556},{"x":4.556,"y":4.588},{"x":4.562,"y":4.585},{"x":4.568,"y":4.602},{"x":4.574,"y":4.589},{"x":4.580,"y":4.605},{"x":4.586,"y":4.593},{"x":4.592,"y":4.618},
{"x":4.01,"y":4.06},{"x":4.05,"y":4.21},{"x":4.068,"y":4.18},{"x":4.08,"y":4.20},{"x":4.10,"y":4.20},{"x":4.11,"y":4.17},{"x":4.12,"y":4.19},{"x":4.14,"y":4.23},{"x":4.15,"y":4.24},{"x":4.17,"y":4.22},{"x":4.18,"y":4.26},{"x":4.19,"y":4.21},{"x":4.18,"y":4.12},{"x":4.177,"y":4.387},{"x":4.20,"y":4.27},{"x":4.21,"y":4.25},{"x":4.23,"y":4.23},{"x":4.25,"y":4.25},{"x":4.28,"y":4.25},{"x":4.29,"y":4.21},{"x":4.31,"y":4.23},{"x":4.32,"y":4.17},{"x":4.34,"y":4.28},{"x":4.36,"y":4.32},{"x":4.38,"y":4.30},{"x":4.40,"y":4.36},{"x":4.36,"y":4.51},{"x":4.43,"y":4.62},{"x":4.46,"y":4.60},{"x":4.48,"y":4.63},{"x":4.51,"y":4.71},{"x":4.55,"y":4.69},{"x":4.58,"y":4.68},{"x":4.61,"y":4.75},{"x":4.62,"y":4.68},{"x":4.64,"y":4.67},{"x":4.66,"y":4.66},{"x":4.69,"y":4.70},{"x":4.70,"y":4.72},{"x":4.71,"y":4.68},{"x":4.72,"y":4.66},{"x":4.765,"y":4.75},{"x":4.76,"y":4.78},{"x":4.82,"y":4.74},{"x":4.87,"y":4.73},{"x":4.86,"y":4.71},{"x":4.905,"y":4.77},{"x":5.05,"y":4.68},{"x":5.065,"y":4.64},{"x":5.005,"y":4.52},{"x":4.45,"y":4.38},{"x":4.48,"y":4.42},{"x":4.53,"y":4.48},{"x":4.56,"y":4.52},{"x":4.50,"y":4.45},{"x":4.42,"y":4.33},{"x":4.26,"y":4.34},{"x":4.24,"y":4.36},{"x":4.22,"y":4.31},{"x":4.30,"y":4.40},{"x":4.35,"y":4.46},{"x":4.60,"y":4.67},{"x":4.63,"y":4.64},{"x":4.57,"y":4.64},{"x":4.54,"y":4.61}
],
"hi":[
{"x":4.920,"y":5.004},{"x":4.924,"y":4.993},{"x":4.928,"y":5.017},{"x":4.932,"y":4.995},{"x":4.936,"y":5.013},{"x":4.940,"y":4.995},{"x":4.944,"y":5.027},{"x":4.948,"y":5.018},{"x":4.952,"y":5.040},{"x":4.956,"y":5.019},{"x":4.960,"y":5.032},{"x":4.964,"y":5.021},{"x":4.968,"y":5.044},{"x":4.972,"y":5.054},{"x":4.976,"y":5.041},{"x":4.980,"y":5.029},{"x":4.984,"y":5.062},{"x":4.988,"y":5.049},{"x":4.992,"y":5.062},{"x":4.996,"y":5.051},{"x":5.000,"y":5.082},{"x":5.004,"y":5.069},{"x":5.008,"y":5.050},{"x":5.012,"y":5.082},{"x":5.016,"y":5.071},{"x":5.020,"y":5.103},{"x":5.024,"y":5.085},{"x":5.028,"y":5.077},{"x":5.032,"y":5.102},{"x":5.036,"y":5.099},{"x":5.040,"y":5.091},{"x":5.044,"y":5.110},{"x":5.048,"y":5.090},{"x":5.052,"y":5.126},{"x":5.056,"y":5.111},{"x":5.060,"y":5.122},{"x":5.064,"y":5.098},{"x":5.068,"y":5.136},{"x":5.072,"y":5.123},{"x":5.076,"y":5.145},{"x":5.080,"y":5.135},{"x":5.084,"y":5.125},{"x":5.088,"y":5.151},{"x":5.092,"y":5.163},{"x":5.096,"y":5.143},{"x":5.100,"y":5.157},{"x":5.104,"y":5.138},{"x":5.108,"y":5.171},{"x":5.112,"y":5.161},{"x":5.116,"y":5.180},{"x":5.120,"y":5.161},
{"x":4.942,"y":5.011},{"x":4.946,"y":5.030},{"x":4.950,"y":5.007},{"x":4.954,"y":5.032},{"x":4.958,"y":5.029},{"x":4.962,"y":5.052},{"x":4.966,"y":5.027},{"x":4.970,"y":5.043},{"x":4.974,"y":5.022},{"x":4.978,"y":5.056},{"x":4.982,"y":5.045},{"x":4.986,"y":5.067},{"x":4.990,"y":5.058},{"x":4.994,"y":5.048},{"x":4.998,"y":5.086},{"x":5.002,"y":5.060},{"x":5.006,"y":5.076},{"x":5.010,"y":5.059},{"x":5.014,"y":5.089},{"x":5.018,"y":5.080},{"x":5.022,"y":5.059},{"x":5.026,"y":5.097},{"x":5.030,"y":5.109},{"x":5.034,"y":5.086},{"x":5.038,"y":5.102},{"x":5.042,"y":5.084},{"x":5.046,"y":5.120},{"x":5.050,"y":5.106},{"x":5.054,"y":5.123},{"x":5.058,"y":5.104},{"x":5.062,"y":5.125},{"x":5.066,"y":5.148},{"x":5.070,"y":5.120},{"x":5.074,"y":5.131},{"x":5.078,"y":5.120},{"x":5.082,"y":5.151},{"x":5.086,"y":5.148},{"x":5.090,"y":5.124},{"x":5.094,"y":5.165},{"x":5.098,"y":5.147},{"x":5.102,"y":5.160},{"x":5.106,"y":5.149},{"x":5.110,"y":5.182},{"x":5.114,"y":5.167},{"x":5.118,"y":5.142},
{"x":4.930,"y":4.998},{"x":4.935,"y":5.021},{"x":4.940,"y":5.010},{"x":4.945,"y":5.026},{"x":4.950,"y":5.007},{"x":4.955,"y":5.032},{"x":4.960,"y":5.030},{"x":4.965,"y":5.050},{"x":4.970,"y":5.030},{"x":4.975,"y":5.048},{"x":4.980,"y":5.030},{"x":4.985,"y":5.062},{"x":4.990,"y":5.053},{"x":4.995,"y":5.078},{"x":5.000,"y":5.059},{"x":5.005,"y":5.072},{"x":5.010,"y":5.063},{"x":5.015,"y":5.091},{"x":5.020,"y":5.083},{"x":5.025,"y":5.095},{"x":5.030,"y":5.076},{"x":5.035,"y":5.108},{"x":5.040,"y":5.098},{"x":5.045,"y":5.120},{"x":5.050,"y":5.100},{"x":5.055,"y":5.118},{"x":5.060,"y":5.099},{"x":5.065,"y":5.132},{"x":5.070,"y":5.123},{"x":5.075,"y":5.149},{"x":5.080,"y":5.129},{"x":5.085,"y":5.146},{"x":5.090,"y":5.133},{"x":5.095,"y":5.163},{"x":5.100,"y":5.155},{"x":5.105,"y":5.168},{"x":5.110,"y":5.149},{"x":5.115,"y":5.174},{"x":5.120,"y":5.171},
{"x":5.125,"y":5.19},{"x":5.13,"y":5.17},{"x":5.135,"y":5.20},{"x":5.14,"y":5.19},{"x":5.145,"y":5.21},{"x":5.15,"y":5.18},{"x":5.155,"y":5.22},{"x":5.16,"y":5.20},{"x":5.17,"y":5.23},{"x":5.175,"y":5.21},{"x":5.18,"y":5.25},{"x":5.185,"y":5.22},{"x":5.19,"y":5.24},{"x":5.20,"y":5.26},{"x":5.21,"y":5.25},{"x":5.22,"y":5.27},{"x":5.23,"y":5.26},{"x":5.18,"y":5.28},{"x":5.24,"y":5.27},{"x":5.255,"y":5.33},{"x":5.26,"y":5.27},{"x":5.22,"y":5.30},{"x":5.30,"y":5.39},{"x":5.30,"y":5.37},{"x":5.315,"y":5.32},{"x":5.28,"y":5.32},{"x":5.16,"y":5.15},{"x":5.13,"y":5.15},{"x":5.10,"y":5.20},{"x":5.06,"y":5.17},{"x":5.15,"y":5.31},{"x":5.12,"y":5.27},{"x":5.10,"y":5.24},
{"x":4.64,"y":5.10},{"x":4.70,"y":4.95},{"x":4.685,"y":4.84},{"x":4.69,"y":4.82},{"x":4.75,"y":4.86},{"x":4.80,"y":4.85},{"x":4.845,"y":4.90},{"x":4.86,"y":4.97},{"x":4.785,"y":4.90},{"x":4.84,"y":4.91},{"x":4.86,"y":4.93},{"x":4.87,"y":4.97},{"x":4.87,"y":4.90},{"x":4.88,"y":4.93},{"x":4.89,"y":4.94},{"x":4.90,"y":4.98},{"x":4.91,"y":4.96},{"x":4.89,"y":4.91},{"x":4.93,"y":4.72},{"x":4.95,"y":4.72},{"x":5.005,"y":4.85},{"x":5.02,"y":4.84},{"x":4.88,"y":4.97},{"x":4.91,"y":4.99},{"x":4.93,"y":4.98},{"x":4.97,"y":4.99},{"x":4.98,"y":5.02},{"x":5.03,"y":5.04},{"x":5.07,"y":5.09},{"x":4.90,"y":4.96},{"x":4.85,"y":4.90}
]
},
"hconcat":[
{
"width":356,"height":279,
"layer":[
{"data":{"name":"aux"},"mark":{"type":"rule","color":"black","strokeWidth":3,"strokeDash":[7,4]},
"encoding":{"y":{"field":"m","type":"quantitative","scale":{"domain":[3.5,6]},"axis":{"values":[3.5,4,4.5,5,5.5,6],"format":"~g","title":"Trapped mass [g]"}}}},
{"data":{"name":"cyc"},"mark":{"type":"circle","size":10,"color":"#9c9c9c","opacity":1},
"encoding":{
"x":{"field":"c","type":"quantitative","scale":{"domain":[0,3000]},"axis":{"values":[0,500,1000,1500,2000,2500,3000],"format":"d","title":"Cycle"}},
"y":{"field":"m","type":"quantitative"}}},
{"data":{"name":"filt"},"mark":{"type":"line","color":"#555555","strokeWidth":3},
"encoding":{"x":{"field":"c","type":"quantitative"},"y":{"field":"m","type":"quantitative"}}},
{"data":{"name":"lab"},"mark":{"type":"text","align":"left","baseline":"middle","fontSize":15,"font":"Liberation Sans","color":"black"},
"encoding":{"x":{"field":"c","type":"quantitative"},"y":{"field":"m","type":"quantitative"},"text":{"field":"t"}}},
{"data":{"name":"leg"},"mark":{"type":"point","opacity":0,"filled":false},
"encoding":{
"color":{"field":"s","type":"nominal","scale":{"domain":["Cycle−by−cycle","Filtered","Auxiliary method"],"range":["#9a9a9a","#555555","#000000"]},
"legend":{"title":null,"orient":"none","legendX":201,"legendY":9,"padding":3,"strokeColor":"black","fillColor":"white","cornerRadius":0,"symbolSize":40,"labelFontSize":15,"labelFont":"Liberation Sans","labelColor":"black","labelOffset":16,"rowPadding":3,"symbolOpacity":1,"labelLimit":300}},
"shape":{"field":"s","type":"nominal","scale":{"domain":["Cycle−by−cycle","Filtered","Auxiliary method"],"range":["M-0.3,-0.3H0.3V0.3H-0.3Z","M-5,0H5","M-5,0H-2.9M-1.05,0H1.05M2.9,0H5"]}},
"strokeWidth":{"field":"s","type":"nominal","scale":{"type":"ordinal","domain":["Cycle−by−cycle","Filtered","Auxiliary method"],"range":[1,3,3]}}}}
]
},
{
"width":356,"height":279,
"layer":[
{"data":{"name":"lo"},"mark":{"type":"circle","size":9,"color":"#808080","opacity":1},
"encoding":{
"x":{"field":"x","type":"quantitative","scale":{"domain":[4,5.5]},"axis":{"values":[4,4.5,5,5.5],"format":"~g","title":"Trapped mass [g], New transform"}},
"y":{"field":"y","type":"quantitative","scale":{"domain":[4,5.5]},"axis":{"values":[4,4.5,5,5.5],"format":"~g","title":"Trapped mass [g], STFT method"}}}},
{"data":{"name":"hi"},"mark":{"type":"circle","size":9,"color":"#000000","opacity":1},
"encoding":{"x":{"field":"x","type":"quantitative"},"y":{"field":"y","type":"quantitative"}}}
]
}
]
}
